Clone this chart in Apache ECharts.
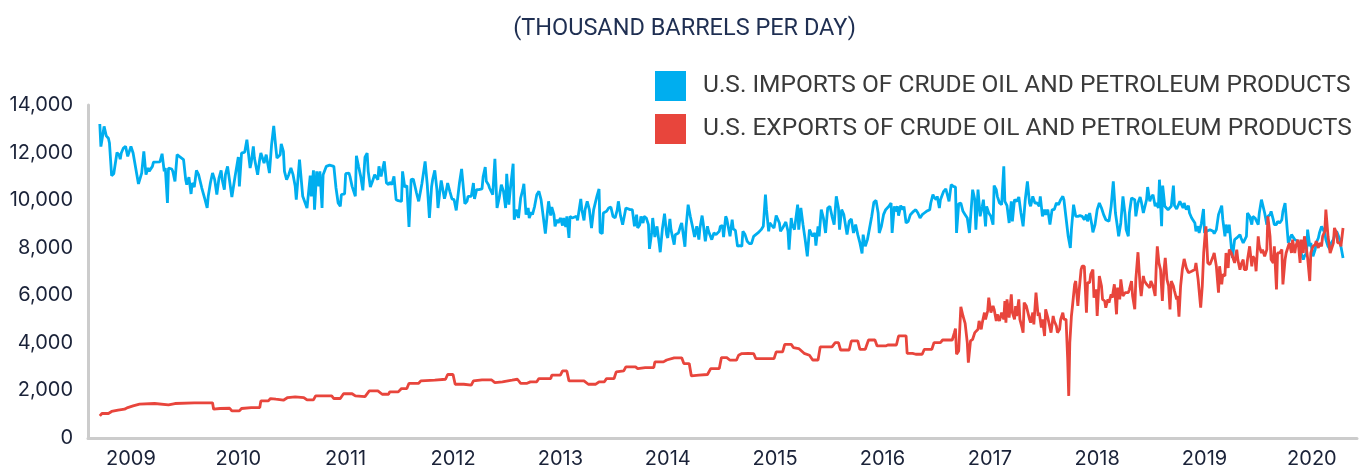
<!DOCTYPE html>
<html lang="en">
<head>
<meta charset="UTF-8">
<title>U.S. imports and exports of crude oil and petroleum products</title>
<script src="https://cdn.jsdelivr.net/npm/echarts@6.0.0/dist/echarts.min.js"></script>
<style>
  html, body { margin: 0; padding: 0; background: #fff; }
  #chart { width: 1369px; height: 469px; }
</style>
</head>
<body>
<div id="chart"></div>
<script>
// x = decimal year (weekly data, sampled at turning points), y = thousand barrels per day
var yearTicks = [2009, 2010, 2011, 2012, 2013, 2014, 2015, 2016, 2017, 2018, 2019, 2020];

var importsData = [
  [2008.71,13200],[2008.72,12250],[2008.75,13100],[2008.77,12700],[2008.79,12600],[2008.80,12400],[2008.82,11030],[2008.84,11110],[2008.87,12000],[2008.89,11900],[2008.90,11720],[2008.91,11980],[2008.93,12190],[2008.95,12260],[2008.97,11840],[2008.98,11810],[2009.00,12260],[2009.02,11980],[2009.03,11950],[2009.07,10680],[2009.10,11140],[2009.12,12050],[2009.14,11070],[2009.16,11350],[2009.17,11210],[2009.20,11420],[2009.21,11600],[2009.27,11610],[2009.29,11950],[2009.31,11210],[2009.32,11350],[2009.34,9880],[2009.35,11350],[2009.38,11310],[2009.39,11210],[2009.41,10790],[2009.43,11910],[2009.45,11840],[2009.49,11700],[2009.51,10860],[2009.52,10650],[2009.54,10970],[2009.56,10260],[2009.57,10720],[2009.59,10550],[2009.61,11250],[2009.63,11070],[2009.66,10510],[2009.69,10020],[2009.71,9670],[2009.72,10160],[2009.74,10720],[2009.76,11140],[2009.78,10860],[2009.80,10230],[2009.82,10930],[2009.84,11250],[2009.85,10860],[2009.87,10440],[2009.88,11070],[2009.90,11420],[2009.91,11450],[2009.94,10130],[2009.97,11000],[2010.00,11810],[2010.01,10580],[2010.03,11980],[2010.06,12020],[2010.08,12540],[2010.11,11350],[2010.12,11560],[2010.14,12260],[2010.15,11770],[2010.18,11070],[2010.20,11730],[2010.21,11980],[2010.24,11560],[2010.26,11910],[2010.27,11980],[2010.29,11140],[2010.31,12330],[2010.33,13120],[2010.35,12190],[2010.36,11770],[2010.39,11910],[2010.40,12360],[2010.42,12050],[2010.43,11210],[2010.45,10860],[2010.47,11070],[2010.49,11350],[2010.51,11070],
  [2010.53,10580],[2010.54,10020],[2010.57,11700],[2010.60,10160],[2010.64,9670],[2010.67,11030],[2010.68,10160],[2010.70,11250],[2010.71,9600],[2010.73,11210],[2010.75,10580],[2010.76,11210],[2010.78,9670],[2010.79,11070],[2010.82,11420],[2010.85,11470],[2010.89,11420],[2010.91,10510],[2010.93,9880],[2010.95,9740],[2010.96,10230],[2010.99,10260],[2011.00,11110],[2011.03,11140],[2011.04,11000],[2011.06,10580],[2011.09,10160],[2011.10,11870],[2011.12,11420],[2011.14,11000],[2011.16,10410],[2011.18,11810],[2011.20,11980],[2011.21,11210],[2011.23,10550],[2011.25,10790],[2011.27,11070],[2011.28,11140],[2011.30,10860],[2011.31,11420],[2011.33,11000],[2011.34,11070],[2011.36,11630],[2011.38,10720],[2011.40,10650],[2011.41,10750],[2011.43,10650],[2011.45,11000],[2011.47,10020],[2011.49,9980],[2011.52,9950],[2011.53,11210],[2011.55,10550],[2011.57,10610],[2011.59,8870],[2011.61,10860],[2011.63,10890],[2011.66,10300],[2011.68,9950],[2011.71,10690],[2011.74,11630],[2011.76,10650],[2011.78,9250],[2011.80,10550],[2011.81,10860],[2011.83,11250],[2011.85,10440],[2011.86,9670],[2011.88,10470],[2011.89,10830],[2011.92,10060],[2011.93,10230],[2011.95,10720],[2011.97,10370],[2011.99,10050],[2012.01,10020],[2012.03,9570],[2012.06,10720],[2012.08,11310],[2012.11,9850],[2012.13,9950],[2012.14,10160],[2012.17,10160],[2012.19,10720],[2012.20,10050],[2012.22,10440],[2012.24,10440],[2012.27,10470],[2012.28,10970],[2012.30,11390],[2012.31,10790],[2012.33,10650],[2012.34,10510],[2012.37,10230],[2012.39,11740],[2012.41,9670],[2012.43,10090],[2012.45,10650],
  [2012.46,10720],[2012.47,10370],[2012.49,9670],[2012.50,11110],[2012.52,9810],[2012.53,10300],[2012.56,11530],[2012.57,9180],[2012.59,9600],[2012.61,9250],[2012.63,10090],[2012.65,10440],[2012.66,10690],[2012.68,9390],[2012.70,9670],[2012.71,9250],[2012.73,9490],[2012.74,9390],[2012.76,9740],[2012.78,10230],[2012.80,10370],[2012.82,10020],[2012.84,9320],[2012.86,8590],[2012.88,9530],[2012.89,9950],[2012.91,9350],[2012.92,9710],[2012.94,9390],[2012.95,8900],[2012.97,9180],[2012.98,9040],[2013.00,9250],[2013.02,8930],[2013.03,9250],[2013.05,8870],[2013.06,9320],[2013.08,8410],[2013.09,9320],[2013.11,9250],[2013.12,9320],[2013.15,9320],[2013.16,9150],[2013.19,10050],[2013.20,9600],[2013.22,9150],[2013.23,9600],[2013.25,9950],[2013.27,9600],[2013.29,8830],[2013.31,9600],[2013.34,10160],[2013.36,10470],[2013.37,8650],[2013.39,8590],[2013.40,9460],[2013.43,9530],[2013.45,9670],[2013.47,9710],[2013.49,9320],[2013.51,9250],[2013.53,9600],[2013.54,9950],[2013.56,9350],[2013.58,8970],[2013.61,9670],[2013.62,9670],[2013.65,9600],[2013.67,9600],[2013.69,8900],[2013.71,9390],[2013.72,8830],[2013.74,8970],[2013.75,9320],[2013.77,9040],[2013.78,9320],[2013.80,9250],[2013.82,8970],[2013.83,7950],[2013.85,8620],[2013.86,9250],[2013.88,8450],[2013.90,8900],[2013.92,8200],[2013.93,7810],[2013.95,8790],[2013.97,9430],[2013.99,8550],[2014.00,8410],[2014.02,9210],[2014.03,8760],[2014.06,8130],[2014.07,8550],[2014.10,8620],[2014.12,8930],[2014.13,9040],[2014.16,8040],[2014.17,8830],[2014.19,9810],[2014.21,9320],[2014.23,8900],[2014.25,8450],[2014.27,8900],[2014.29,8340],[2014.30,8830],[2014.32,9350],[2014.33,9040],[2014.35,8270],[2014.37,8900],
  [2014.38,8690],[2014.41,8340],[2014.43,8620],[2014.45,8550],[2014.48,8690],[2014.49,8900],[2014.51,8930],[2014.52,8450],[2014.54,9320],[2014.55,9210],[2014.58,8480],[2014.60,9180],[2014.61,8790],[2014.63,8730],[2014.65,8060],[2014.67,8090],[2014.69,8060],[2014.70,8690],[2014.72,8550],[2014.74,8270],[2014.76,8170],[2014.78,8170],[2014.80,8480],[2014.82,8550],[2014.84,8620],[2014.87,8760],[2014.89,8900],[2014.91,10230],[2014.92,9600],[2014.94,8690],[2014.95,9040],[2014.97,8930],[2014.99,8830],[2015.01,9350],[2015.04,9040],[2015.05,8690],[2015.07,8830],[2015.10,9080],[2015.12,8690],[2015.13,7920],[2015.15,9250],[2015.16,8970],[2015.18,8760],[2015.19,8730],[2015.21,9810],[2015.22,8760],[2015.24,9670],[2015.26,8970],[2015.28,8340],[2015.30,7640],[2015.32,8760],[2015.33,8690],[2015.35,8480],[2015.37,8620],[2015.38,8090],[2015.40,8900],[2015.41,8480],[2015.43,9600],[2015.45,9250],[2015.47,8620],[2015.49,9670],[2015.51,9740],[2015.53,9320],[2015.55,8970],[2015.57,10160],[2015.59,9670],[2015.60,8760],[2015.62,9600],[2015.64,9390],[2015.66,8830],[2015.67,8550],[2015.69,9110],[2015.71,9210],[2015.73,8620],[2015.75,8970],[2015.77,8550],[2015.79,8200],[2015.81,7760],[2015.82,8550],[2015.84,8060],[2015.86,8340],[2015.88,8830],[2015.90,9320],[2015.92,9910],[2015.94,9990],[2015.96,9460],[2015.97,8620],[2015.99,8900],[2016.01,9390],[2016.03,9600],[2016.06,9740],[2016.08,9880],[2016.09,8620],[2016.11,9740],[2016.12,9530],[2016.14,9740],[2016.15,9350],[2016.17,9770],[2016.19,9600],[2016.20,9740],[2016.22,9040],[2016.24,9110],[2016.26,9390],[2016.29,9530],
  [2016.31,9600],[2016.33,9460],[2016.35,9250],[2016.37,9390],[2016.39,9460],[2016.41,9530],[2016.44,9600],[2016.45,9880],[2016.47,10230],[2016.48,10130],[2016.50,10020],[2016.51,10160],[2016.53,9670],[2016.54,10020],[2016.57,10370],[2016.59,10470],[2016.60,10300],[2016.62,9950],[2016.64,10650],[2016.66,10580],[2016.68,10550],[2016.69,8620],[2016.71,9850],[2016.73,9880],[2016.75,9530],[2016.77,9390],[2016.79,9250],[2016.81,8620],[2016.82,8550],[2016.84,10440],[2016.86,10020],[2016.87,8760],[2016.89,10440],[2016.91,9320],[2016.93,9740],[2016.94,10020],[2016.96,8900],[2016.97,9740],[2016.99,9460],[2017.01,9320],[2017.03,8970],[2017.04,10610],[2017.06,10440],[2017.07,10160],[2017.09,9880],[2017.11,9810],[2017.13,11420],[2017.14,9950],[2017.16,9770],[2017.18,9040],[2017.20,9950],[2017.21,9110],[2017.23,10020],[2017.25,9950],[2017.27,10130],[2017.29,9460],[2017.31,8900],[2017.33,10020],[2017.35,10790],[2017.37,9880],[2017.38,9740],[2017.40,10160],[2017.42,9880],[2017.44,9880],[2017.46,9740],[2017.47,10160],[2017.49,9320],[2017.51,9600],[2017.52,9390],[2017.54,9600],[2017.56,8970],[2017.58,9600],[2017.60,9600],[2017.62,9880],[2017.64,9810],[2017.66,10020],[2017.68,10160],[2017.69,10020],[2017.71,9250],[2017.73,8480],[2017.75,7990],[2017.76,8760],[2017.78,9810],[2017.80,9320],[2017.82,9320],[2017.84,9350],[2017.86,9320],[2017.88,9180],[2017.90,9390],[2017.91,9110],[2017.93,9460],[2017.95,8970],[2017.96,8650],[2017.98,8970],[2018.00,9600],[2018.02,9880],[2018.04,9670],[2018.06,9390],[2018.08,9180],[2018.11,9110],[2018.13,9740],[2018.15,10790],[2018.17,9460],[2018.19,8830],[2018.20,8480],[2018.22,9040],
  [2018.24,10160],[2018.26,9390],[2018.27,8760],[2018.29,8480],[2018.30,9460],[2018.32,10090],[2018.33,10130],[2018.35,10020],[2018.36,9320],[2018.38,9880],[2018.40,10130],[2018.41,9950],[2018.43,9460],[2018.44,9390],[2018.46,10020],[2018.47,10550],[2018.49,9950],[2018.50,10090],[2018.52,10230],[2018.54,9740],[2018.55,9880],[2018.57,9670],[2018.58,10860],[2018.60,8900],[2018.61,10610],[2018.63,9740],[2018.64,9670],[2018.66,9600],[2018.67,9670],[2018.69,9740],[2018.71,10610],[2018.72,9770],[2018.74,9630],[2018.75,9670],[2018.77,9950],[2018.78,10020],[2018.80,9670],[2018.81,9880],[2018.83,9600],[2018.85,9770],[2018.86,9460],[2018.88,9250],[2018.89,9180],[2018.91,9040],[2018.92,8690],[2018.94,8900],[2018.95,8620],[2018.97,9010],[2018.99,9630],[2019.00,8620],[2019.02,8690],[2019.03,8620],[2019.05,8760],[2019.06,8830],[2019.08,8690],[2019.09,8590],[2019.11,8760],[2019.13,9390],[2019.14,9460],[2019.16,9770],[2019.17,9180],[2019.19,8480],[2019.20,8970],[2019.22,8620],[2019.23,8970],[2019.25,7990],[2019.26,7570],[2019.28,8340],[2019.30,8410],[2019.31,8480],[2019.33,8550],[2019.34,8410],[2019.36,8200],[2019.37,8270],[2019.39,8480],[2019.40,9460],[2019.42,9320],[2019.44,8970],[2019.45,9320],[2019.47,9250],[2019.48,9320],[2019.50,8970],[2019.51,9460],[2019.53,10020],[2019.54,10020],[2019.56,9460],[2019.58,8970],[2019.59,9320],[2019.61,9390],[2019.62,9530],[2019.64,9180],[2019.65,8970],[2019.67,8970],[2019.68,9110],[2019.70,9040],[2019.72,9180],[2019.73,9530],[2019.75,9880],[2019.76,9320],[2019.78,8200],[2019.79,8130],[2019.81,8550],[2019.82,8480],[2019.84,8340],[2019.85,8410],[2019.87,8270],[2019.89,8060],[2019.90,7780],[2019.92,7500],[2019.93,7640],[2019.95,7780],[2019.96,8760],[2019.98,8060],[2019.99,8200],[2020.01,7640],[2020.03,7920],[2020.04,8200],[2020.06,8410],[2020.07,8620],[2020.09,8900],[2020.10,8970],[2020.12,8620],[2020.13,8340],[2020.15,8060],[2020.17,7920],[2020.18,8200],[2020.20,8340],[2020.21,8480],[2020.23,8690],[2020.24,8620],[2020.26,8340],[2020.27,8060],[2020.29,7570]
];

var exportsData = [
  [2008.71,930],[2008.73,1030],[2008.79,1030],[2008.82,1115],[2008.88,1170],[2008.94,1210],[2008.97,1280],[2009.02,1350],[2009.08,1420],[2009.22,1450],[2009.35,1390],[2009.41,1450],[2009.59,1480],[2009.76,1480],[2009.77,1210],[2009.83,1240],[2009.92,1250],[2009.94,1140],[2010.01,1140],[2010.03,1240],[2010.12,1280],[2010.20,1280],[2010.21,1560],[2010.28,1560],[2010.30,1660],[2010.35,1630],[2010.42,1590],[2010.46,1700],
  [2010.53,1730],[2010.61,1700],[2010.64,1600],[2010.70,1600],[2010.72,1770],[2010.87,1770],[2010.89,1660],[2010.95,1660],[2010.98,1860],[2011.06,1860],[2011.09,1770],[2011.18,1740],[2011.22,1980],[2011.30,1980],[2011.34,1840],[2011.40,1840],[2011.41,1940],[2011.49,1940],[2011.52,2080],[2011.57,2080],[2011.59,2300],[2011.68,2300],[2011.70,2400],[2011.83,2430],[2011.93,2470],[2011.95,2670],[2012.00,2670],[2012.02,2260],[2012.10,2260],[2012.11,2220],[2012.17,2220],[2012.19,2400],[2012.27,2440],[2012.36,2440],[2012.39,2330],
  [2012.46,2360],[2012.55,2430],[2012.60,2470],[2012.63,2300],[2012.69,2300],[2012.72,2360],[2012.78,2360],[2012.80,2500],[2012.91,2500],[2012.92,2640],[2013.00,2640],[2013.02,2820],[2013.06,2820],[2013.08,2400],[2013.22,2400],[2013.26,2260],[2013.33,2260],[2013.36,2360],[2013.41,2360],[2013.43,2500],[2013.50,2500],[2013.52,2780],[2013.59,2820],[2013.61,2990],[2013.70,2990],[2013.72,2920],[2013.79,2960],[2013.87,2960],[2013.88,3200],[2013.96,3200],[2013.99,3280],[2014.06,3370],[2014.13,3370],[2014.15,3130],[2014.20,3130],[2014.22,2610],[2014.29,2640],[2014.37,2670],
  [2014.38,2750],[2014.40,2920],[2014.48,2920],[2014.50,3380],[2014.55,3380],[2014.58,3270],[2014.64,3270],[2014.66,3480],[2014.69,3550],[2014.75,3560],[2014.80,3550],[2014.82,3340],[2014.99,3340],[2015.01,3620],[2015.07,3620],[2015.09,3940],[2015.15,3940],[2015.17,3800],[2015.22,3760],[2015.27,3560],[2015.32,3480],[2015.35,3280],[2015.40,3280],[2015.42,3830],[2015.53,3830],[2015.56,4010],[2015.59,4010],[2015.61,3700],[2015.69,3700],[2015.71,4080],[2015.77,4080],[2015.79,3730],[2015.84,3730],[2015.87,4120],[2015.93,4120],[2015.95,3870],[2016.03,3870],[2016.05,3910],[2016.13,3910],[2016.15,4290],[2016.22,4290],[2016.23,3560],[2016.28,3560],
  [2016.31,3520],[2016.37,3520],[2016.39,3730],[2016.46,3730],[2016.48,4010],[2016.54,4010],[2016.56,4120],[2016.65,4120],[2016.67,4430],[2016.68,4600],[2016.69,3520],[2016.71,3660],[2016.73,5520],[2016.75,5130],[2016.77,4820],[2016.79,4010],[2016.80,3170],[2016.82,4080],[2016.84,4150],[2016.86,4430],[2016.89,4570],[2016.90,4920],[2016.92,4570],[2016.93,4850],[2016.95,5270],[2016.96,4990],[2016.98,5340],[2016.99,5900],[2017.01,5270],[2017.03,5550],[2017.04,5410],[2017.06,4920],[2017.07,5200],[2017.09,4920],[2017.10,4990],[2017.11,5270],[2017.13,4990],[2017.14,5760],[2017.15,4850],[2017.16,5830],[2017.18,5060],[2017.19,5130],[2017.20,6040],[2017.21,5270],[2017.23,4990],[2017.24,5550],[2017.25,5130],[2017.27,5830],[2017.28,4990],[2017.30,4640],[2017.31,4430],[2017.32,5690],[2017.34,5550],[2017.35,5620],[2017.37,4990],[2017.38,4850],[2017.40,5270],[2017.41,4780],[2017.43,6110],[2017.45,5130],[2017.46,5270],[2017.48,4640],[2017.49,4990],[2017.51,4290],[2017.52,5410],[2017.54,5060],[2017.55,5130],[2017.57,4430],[2017.59,5130],[2017.60,4920],[2017.62,4710],[2017.63,4430],[2017.65,4570],[2017.66,4990],[2017.68,5270],[2017.69,4990],[2017.71,4990],[2017.725,3310],[2017.735,1770],[2017.745,4010],[2017.76,5130],[2017.77,5550],[2017.79,6460],[2017.80,6600],[2017.82,5550],[2017.83,6110],[2017.85,7080],[2017.86,7220],[2017.88,7220],[2017.90,5270],[2017.91,6530],[2017.93,6530],[2017.94,6880],[2017.96,7080],[2017.97,5900],[2017.99,6250],[2018.00,5130],[2018.02,6810],[2018.04,6390],[2018.05,5830],[2018.07,5760],[2018.08,5480],[2018.10,5830],[2018.11,5690],[2018.13,6040],[2018.14,5900],[2018.16,6460],[2018.18,5200],[2018.19,6320],[2018.21,5830],[2018.22,6670],
  [2018.24,5970],[2018.26,6110],[2018.27,6180],[2018.29,6110],[2018.30,6250],[2018.32,6600],[2018.33,5970],[2018.35,5410],[2018.36,6670],[2018.38,7810],[2018.40,6390],[2018.41,5970],[2018.43,6810],[2018.44,6600],[2018.46,6460],[2018.47,6390],[2018.49,6320],[2018.50,6600],[2018.52,6390],[2018.54,5970],[2018.55,7220],[2018.56,8060],[2018.575,7360],[2018.59,7080],[2018.607,5760],[2018.62,6950],[2018.634,7570],[2018.65,6670],[2018.665,6390],[2018.678,5410],[2018.69,6600],[2018.71,6390],[2018.72,6180],[2018.74,5830],[2018.749,5970],[2018.762,5100],[2018.777,6390],[2018.793,7080],[2018.81,7530],[2018.83,7150],[2018.85,6950],[2018.86,7010],[2018.88,7010],[2018.89,7080],[2018.91,7080],[2018.92,7360],[2018.94,6670],[2018.95,6600],[2018.964,5480],[2018.979,6390],[2018.992,7780],[2019.004,8480],[2019.013,8900],[2019.03,7360],[2019.05,7290],[2019.06,7290],[2019.08,7640],[2019.09,7780],[2019.11,7220],[2019.13,6110],[2019.14,7220],[2019.16,6460],[2019.17,6880],[2019.19,6810],[2019.20,7780],[2019.22,7150],[2019.23,7920],[2019.25,7780],[2019.26,7850],[2019.28,7360],[2019.30,7920],[2019.31,7500],[2019.33,7080],[2019.34,7290],[2019.36,7500],[2019.37,7080],[2019.39,7080],[2019.40,7500],[2019.42,8060],[2019.44,7220],[2019.45,7640],[2019.47,7500],[2019.48,7010],[2019.50,8480],[2019.51,8060],[2019.53,7780],[2019.54,7920],[2019.56,7640],[2019.58,7920],[2019.59,9320],[2019.61,8480],[2019.62,7500],[2019.64,7360],[2019.65,8060],[2019.67,6250],[2019.68,7780],[2019.70,7780],[2019.72,7920],[2019.73,6460],[2019.75,7500],[2019.76,7780],[2019.78,8060],[2019.79,8200],[2019.81,7780],[2019.82,8340],[2019.84,7780],[2019.85,8060],[2019.87,8340],[2019.89,7360],[2019.90,8340],[2019.92,7780],[2019.93,8480],[2019.95,7920],[2019.96,7570],[2019.98,6600],[2019.99,7780],[2020.01,8060],[2020.03,8130],[2020.04,8270],[2020.06,7990],[2020.07,8200],[2020.09,8060],[2020.10,8480],[2020.12,8690],[2020.13,9600],[2020.15,8480],[2020.17,7780],[2020.18,7710],[2020.20,8200],[2020.21,8830],[2020.23,8620],[2020.24,8200],[2020.26,8200],[2020.27,8060],[2020.29,8830]
];

var chart = echarts.init(document.getElementById('chart'));

chart.setOption({
  animation: false,
  title: {
    text: '(THOUSAND BARRELS PER DAY)',
    left: 'center',
    top: 12,
    textStyle: { fontFamily: 'Roboto', fontSize: 23.5, fontWeight: 'normal', color: '#1f2f52' }
  },
  legend: {
    orient: 'vertical',
    left: 655,
    top: 71,
    padding: 0,
    itemWidth: 31,
    itemHeight: 30,
    itemGap: 13,
    icon: 'rect',
    textStyle: { fontFamily: 'Roboto', fontSize: 24.5, color: '#3a3a3a', padding: [0, 0, 0, 12] }
  },
  grid: { left: 88, right: 12, top: 105, bottom: 30 },
  xAxis: {
    type: 'value',
    min: 2008.6,
    max: 2020.42,
    axisLine: { show: true, lineStyle: { color: '#cccccc', width: 3 } },
    axisTick: { show: false },
    splitLine: { show: false },
    axisLabel: {
      customValues: yearTicks,
      formatter: function (v) { return String(v); },
      fontFamily: 'Inter',
      fontSize: 20,
      color: '#1a2238',
      margin: 11
    }
  },
  yAxis: {
    type: 'value',
    min: 0,
    max: 14000,
    interval: 2000,
    axisLine: { show: true, lineStyle: { color: '#cccccc', width: 3 } },
    axisTick: { show: false },
    splitLine: { show: false },
    axisLabel: {
      formatter: function (v) { return v.toLocaleString('en-US'); },
      fontFamily: 'Inter',
      fontSize: 20,
      color: '#1a2238',
      margin: 15
    }
  },
  series: [
    {
      name: 'U.S. IMPORTS OF CRUDE OIL AND PETROLEUM PRODUCTS',
      type: 'line',
      data: importsData,
      symbol: 'none',
      color: '#00aeef',
      lineStyle: { width: 2.8, color: '#00aeef' }
    },
    {
      name: 'U.S. EXPORTS OF CRUDE OIL AND PETROLEUM PRODUCTS',
      type: 'line',
      data: exportsData,
      symbol: 'none',
      color: '#e8453c',
      lineStyle: { width: 2.8, color: '#e8453c' }
    }
  ]
});
</script>
</body>
</html>
